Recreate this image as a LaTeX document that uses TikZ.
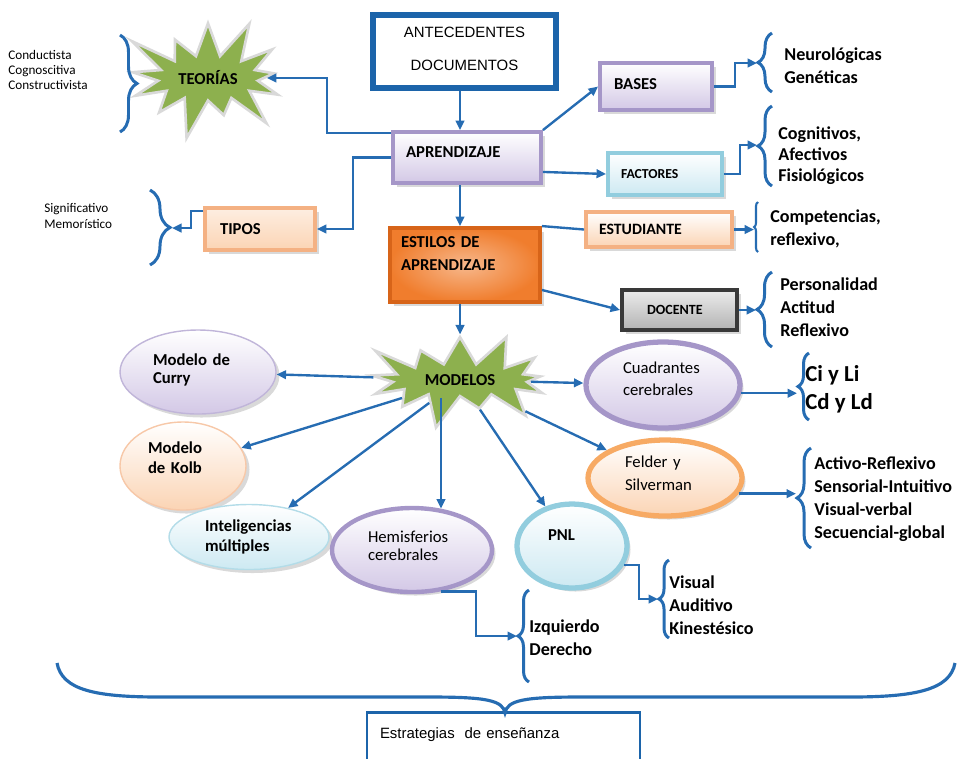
\documentclass[tikz,border=0pt]{standalone}
\usepackage{fontspec}
\setmainfont{Carlito}
\newfontfamily\arialfont{Liberation Sans}
\usetikzlibrary{arrows.meta,calc,shapes.geometric,shapes.symbols,shadows,decorations.pathreplacing}
\definecolor{lineblue}{RGB}{38,108,178}
\definecolor{frameblue}{RGB}{28,100,170}
\definecolor{lavfill}{RGB}{211,200,230}
\definecolor{lavdraw}{RGB}{165,150,200}
\definecolor{peachfill}{RGB}{251,212,180}
\definecolor{peachdraw}{RGB}{244,177,131}
\definecolor{felderdraw}{RGB}{247,170,100}
\definecolor{orangefill}{RGB}{240,125,45}
\definecolor{orangedraw}{RGB}{215,100,25}
\definecolor{cyanfill}{RGB}{205,233,242}
\definecolor{cyandraw}{RGB}{146,205,222}
\definecolor{stargreen}{RGB}{141,176,78}
\begin{document}
\begin{tikzpicture}[x=0.2mm,y=-0.2mm,
  arr/.style={draw=lineblue,line width=1.35pt,-{Triangle[length=1.9mm,width=1.7mm]}},
  conn/.style={draw=lineblue,line width=1.35pt},
  brc/.style={draw=lineblue,line width=1.7pt,decorate,decoration={brace,amplitude=#1}},
  shd/.style={drop shadow={shadow xshift=.7mm,shadow yshift=-.7mm,opacity=.3}},
  box/.style={rectangle,line width=2.2pt,align=left,inner sep=1mm,font=\bfseries\fontsize{9.5}{13}\selectfont},
  oval/.style={ellipse,align=left,inner sep=.5mm,shd,font=\bfseries\fontsize{9.5}{11.4}\selectfont},
  burst/.style={starburst,starburst points=13,fill=stargreen,draw=gray!30,line width=1.5pt,font=\bfseries\fontsize{9.5}{11}\selectfont},
  list/.style={anchor=west,align=left,inner sep=0pt,font=\bfseries\fontsize{10.3}{13}\selectfont}]
\useasboundingbox (0,0) rectangle (957,758);
\clip (0,0) rectangle (957,758);
\node[box,draw=frameblue,line width=3pt,align=center,font=\arialfont\fontsize{8.5}{18.8}\selectfont,
  text width=30mm,minimum width=36.6mm,minimum height=14.6mm,text depth=7.8mm] (ant) at (464.5,51.5) {ANTECEDENTES\\DOCUMENTOS};
\node[box,shd,draw=lavdraw,top color=white,bottom color=lavfill,text width=24.4mm,minimum width=29.6mm,minimum height=10.2mm,text depth=2.2mm] (apr) at (467,157.5) {APRENDIZAJE};
\node[box,shd,draw=lavdraw,top color=white,bottom color=lavfill,text width=16.8mm,minimum width=22.4mm,minimum height=9.4mm,text depth=1mm] (bases) at (656,86.5) {BASES};
\node[box,shd,draw=cyandraw,top color=white,bottom color=cyanfill,font=\bfseries\fontsize{7.8}{10}\selectfont,text width=17.6mm,minimum width=22.8mm,minimum height=8.4mm] (fact) at (665,174) {FACTORES};
\node[box,shd,draw=peachdraw,top color=peachfill!40!white,bottom color=peachfill,text width=16mm,minimum width=22mm,minimum height=8.4mm] (tipos) at (260,229) {TIPOS};
\node[box,shd,draw=orangedraw,inner color=orangefill!55!white,outer color=orangefill,text width=25.6mm,minimum width=30mm,minimum height=14.8mm,text depth=9.2mm] (estilos) at (465,265) {ESTILOS DE\\APRENDIZAJE};
\node[box,shd,draw=peachdraw,top color=white,bottom color=peachfill,font=\bfseries\fontsize{9}{11}\selectfont,text width=24mm,minimum width=29.2mm,minimum height=7mm] (estud) at (659,229.5) {ESTUDIANTE};
\node[box,shd,draw=gray!45!black,top color=gray!15,bottom color=gray!60,font=\bfseries\fontsize{8}{10}\selectfont,text width=13mm,minimum width=23mm,minimum height=8mm] (docente) at (679.5,310) {DOCENTE};
\node[box,draw=frameblue,line width=1.5pt,fill=white,font=\arialfont\fontsize{8.5}{10}\selectfont,text width=49.4mm,minimum width=54.6mm,minimum height=11.4mm,text depth=3.2mm] (estr) at (503.5,741) {Estrategias\ \ de enseñanza};
\node[burst,minimum width=29mm,minimum height=27mm,starburst point height=9mm] (teorias) at (208,78) {TEORÍAS};
\node[burst,minimum width=42mm,minimum height=20mm,starburst point height=7.5mm] (modelos) at (460,380) {MODELOS};
\node[oval,draw=lavdraw!70,line width=.8pt,top color=white,bottom color=lavfill,text width=18mm,minimum width=31.2mm,minimum height=16.8mm,text depth=4.8mm,font=\bfseries\fontsize{9.5}{10.2}\selectfont] (curry) at (198,372) {Modelo de\\Curry};
\node[oval,draw=peachdraw!70,line width=.8pt,top color=white,bottom color=peachfill,text width=14mm,minimum width=25.2mm,minimum height=17.6mm,text depth=7.2mm] (kolb) at (183,466) {Modelo\\de Kolb};
\node[oval,draw=cyandraw!70,line width=.8pt,top color=white,bottom color=cyanfill,text width=17.6mm,minimum width=32mm,minimum height=13mm,text depth=4.4mm] (intel) at (249,537) {Inteligencias\\múltiples};
\node[oval,draw=lavdraw,line width=2.5pt,top color=white,bottom color=lavfill,text width=17.6mm,minimum width=32mm,minimum height=16.8mm,text depth=5.2mm,font=\fontsize{9.5}{10.2}\selectfont] (hemis) at (412,550) {Hemisferios\\cerebrales};
\node[oval,draw=cyandraw,line width=3pt,top color=white,bottom color=cyanfill,text width=9.6mm,minimum width=22mm,minimum height=16.8mm,text depth=4.4mm] (pnl) at (572,546) {PNL};
\node[oval,draw=lavdraw,line width=3pt,top color=white,bottom color=lavfill,text width=16mm,minimum width=30.8mm,minimum height=17.2mm,text depth=6.8mm,font=\fontsize{9.5}{12.5}\selectfont] (cuad) at (663,385) {Cuadrantes\\cerebrales};
\node[oval,draw=felderdraw,line width=3pt,top color=white,bottom color=peachfill,text width=16mm,minimum width=30.8mm,minimum height=15.2mm,text depth=6.4mm,font=\fontsize{9.5}{13}\selectfont] (felder) at (665,478) {Felder y\\Silverman};
\node[list,font=\fontsize{7.5}{8.5}\selectfont] (lteo) at (8,70) {Conductista\\Cognoscitiva\\Constructivista};
\node[list,font=\fontsize{7.5}{9.5}\selectfont] (ltipos) at (44,216) {Significativo\\Memorístico};
\node[list] (lbases) at (784,66) {Neurológicas\\Genéticas};
\node[list,font=\bfseries\fontsize{10.3}{12}\selectfont] (lfact) at (778,156) {Cognitivos,\\Afectivos\\Fisiológicos};
\node[list] (lestud) at (770,229) {Competencias,\\reflexivo,};
\node[list] (ldoc) at (780,307) {Personalidad\\Actitud\\Reflexivo};
\node[list,font=\bfseries\fontsize{13}{16}\selectfont] (lcuad) at (805,389) {Ci y Li\\Cd y Ld};
\node[list] (lfelder) at (814,499) {Activo-Reflexivo\\Sensorial-Intuitivo\\Visual-verbal\\Secuencial-global};
\node[list] (lpnl) at (669,605) {Visual\\Auditivo\\Kinestésico};
\node[list] (lhemis) at (529,638) {Izquierdo\\Derecho};
\coordinate (ctipos) at (172,228);
\coordinate (cbases) at (757,63);
\coordinate (cfact) at (757,145);
\coordinate (cestud) at (754,227);
\coordinate (cdoc) at (756,310);
\coordinate (ccuad) at (797,387);
\coordinate (cfelder) at (796,498);
\coordinate (cpnl) at (658,599);
\coordinate (chemis) at (517,636);
\draw[brc=3.4mm] (120,35) -- (120,132);
\draw[brc=4mm] (150,190) -- (150,265);
\draw[brc=2.8mm] (772,92) -- (772,33);
\draw[brc=2.8mm] (772,186) -- (772,106);
\draw[brc=.8mm,line width=1.2pt] (758,252) -- (758,202);
\draw[brc=3mm] (772,347) -- (772,272);
\draw[brc=2.2mm] (809,420) -- (809,353);
\draw[brc=2.8mm] (811,548) -- (811,448);
\draw[brc=2mm] (669,638) -- (669,560);
\draw[brc=2.2mm] (529,682) -- (529,590);
\draw[draw=lineblue,line width=1.8pt] (57,663) .. controls (62,690) and (95,697) .. (160,697) -- (430,697)
  .. controls (485,697) and (503,700) .. (505,713) .. controls (507,700) and (525,697) .. (580,697)
  -- (850,697) .. controls (915,697) and (950,690) .. (955,663);
\draw[arr] (ant.south -| 460,0) -- (apr.north -| 460,0);
\draw[arr] ($(apr.north west)+(0,3)$) -| ($(teorias.east)+(60,0)$) -- (teorias.east);
\draw[arr] (apr.west) -| ($(tipos.east)+(36,0)$) -- (tipos.east);
\draw[arr] ($(tipos.north west)+(0,5)$) -- ++(-12,0) |- (ctipos);
\draw[arr] (apr.north east) -- (bases.west);
\draw[arr] ($(apr.south east)+(0,-13)$) -- (fact.west);
\draw[arr] (bases.east) -- ++(21,0) |- (cbases);
\draw[arr] (fact.east) -- ++(16,0) |- (cfact);
\draw[arr] (apr.south -| 460,0) -- (estilos.north -| 460,0);
\draw[conn] (estilos.north east) -- (estud.west);
\draw[arr] (estud.east) -- (estud.east -| cestud);
\draw[arr] ($(estilos.south east)+(0,-14)$) -- (docente.west);
\draw[arr] (docente.east) -- (docente.east -| cdoc);
\draw[arr] (estilos.south -| 460,0) -- (modelos.north -| 460,0);
\draw[arr] (modelos) -- (curry);
\draw[arr] (modelos) -- (kolb);
\draw[arr] (modelos) -- (intel);
\draw[arr] (hemis.55 |- modelos.south) -- (hemis.55);
\draw[arr] (modelos) -- (pnl);
\draw[arr] (modelos) -- (felder);
\draw[arr] (modelos) -- (cuad);
\draw[arr] (cuad.-6) -- (cuad.-6 -| ccuad);
\draw[arr] (felder.-12) -- (felder.-12 -| cfelder);
\draw[arr] (pnl.-20) -- ++(15,0) |- (cpnl);
\draw[arr] (hemis.-55) -- ++(35,0) |- (chemis);
\end{tikzpicture}
\end{document}
